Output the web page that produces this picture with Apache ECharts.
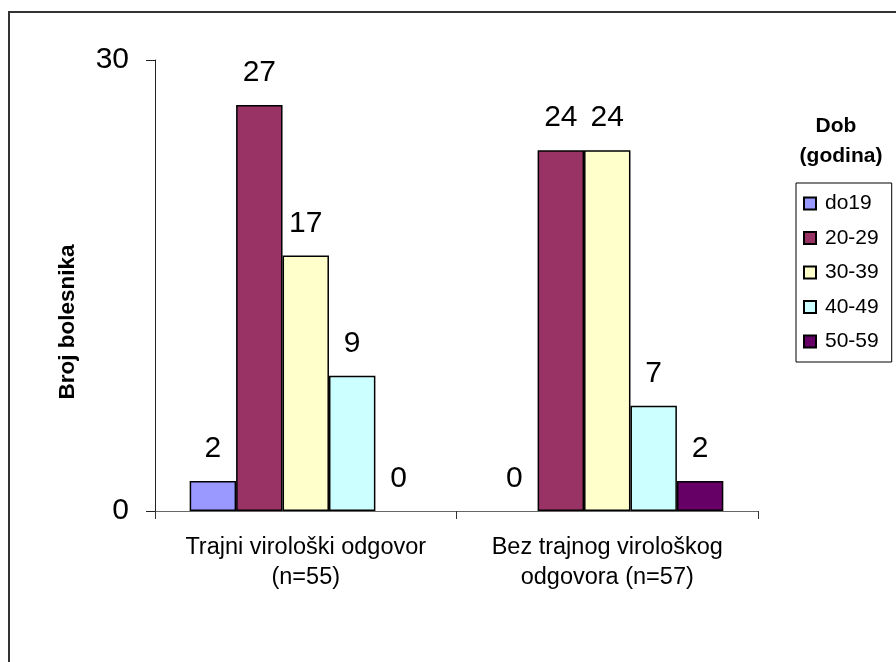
<!DOCTYPE html>
<html>
<head>
<meta charset="utf-8">
<script src="https://cdn.jsdelivr.net/npm/echarts@6/dist/echarts.min.js"></script>
<style>
html,body{margin:0;padding:0;background:#fff;}
#chart{width:896px;height:662px;}
</style>
</head>
<body>
<div id="chart"></div>
<script>
var categories = ['Trajni virološki odgovor\n(n=55)', 'Bez trajnog virološkog\nodgovora (n=57)'];
var seriesNames = ['do19', '20-29', '30-39', '40-49', '50-59'];
var do19 = [2, 0];
var age20_29 = [27, 24];
var age30_39 = [17, 24];
var age40_49 = [9, 7];
var age50_59 = [0, 2];
var seriesValues = [do19, age20_29, age30_39, age40_49, age50_59];
var colors = ['#9999FF', '#993366', '#FFFFCC', '#CCFFFF', '#660066'];
var yTicks = [0, 30];
var yTitle = 'Broj bolesnika';

var FONT = '"Liberation Sans", Arial, sans-serif';
var chart = echarts.init(document.getElementById('chart'), null, {renderer: 'canvas'});

var series = seriesNames.map(function (name, i) {
  return {
    name: name,
    type: 'bar',
    barGap: '0%',
    barCategoryGap: '23%',
    itemStyle: {color: colors[i], borderColor: '#000', borderWidth: 1.5},
    label: {
      show: true, position: 'top', distance: 17,
      fontSize: 30, color: '#000', fontFamily: FONT
    },
    data: seriesValues[i].map(function (v) {
      return v === 0 ? {value: v, itemStyle: {borderWidth: 0}} : v;
    })
  };
});

chart.setOption({
  animation: false,
  backgroundColor: '#fff',
  textStyle: {fontFamily: FONT},
  grid: {left: 155, right: 138, top: 60, bottom: 151, containLabel: false},
  xAxis: {
    type: 'category',
    data: categories,
    axisLine: {lineStyle: {color: '#666', width: 1}},
    axisTick: {show: true, interval: 0, length: 8, lineStyle: {color: '#333'}},
    axisLabel: {interval: 0, hideOverlap: false, fontSize: 23.5, color: '#000', lineHeight: 30, margin: 22, fontFamily: FONT}
  },
  yAxis: {
    type: 'value',
    min: yTicks[0], max: yTicks[1], interval: yTicks[1] - yTicks[0],
    splitLine: {show: false},
    axisLine: {show: true, lineStyle: {color: '#222', width: 1}},
    axisTick: {show: true, length: 9, lineStyle: {color: '#222'}},
    axisLabel: {fontSize: 30, color: '#000', margin: 26, fontFamily: FONT}
  },
  legend: {
    orient: 'vertical',
    left: 796, top: 183,
    padding: [10, 13, 10, 7],
    itemGap: 13.5,
    itemWidth: 12, itemHeight: 12,
    icon: 'rect',
    borderColor: '#000', borderWidth: 1,
    textStyle: {fontSize: 21, color: '#000', fontFamily: FONT, padding: [0, 0, 0, 4]},
    data: seriesNames
  },
  graphic: [
    {type: 'polyline', shape: {points: [[9, 700], [9, 12], [920, 12]]}, style: {stroke: '#333', lineWidth: 2, fill: null}},
    {type: 'text', x: 68, y: 322, rotation: Math.PI / 2, style: {text: yTitle, fill: '#000', font: 'bold 22.5px ' + FONT, textAlign: 'center', textVerticalAlign: 'middle'}},
    {type: 'text', x: 836, y: 126, style: {text: 'Dob', fill: '#000', font: 'bold 21px ' + FONT, textAlign: 'center', textVerticalAlign: 'middle'}},
    {type: 'text', x: 841, y: 156, style: {text: '(godina)', fill: '#000', font: 'bold 21px ' + FONT, textAlign: 'center', textVerticalAlign: 'middle'}}
  ],
  series: series
});
</script>
</body>
</html>
